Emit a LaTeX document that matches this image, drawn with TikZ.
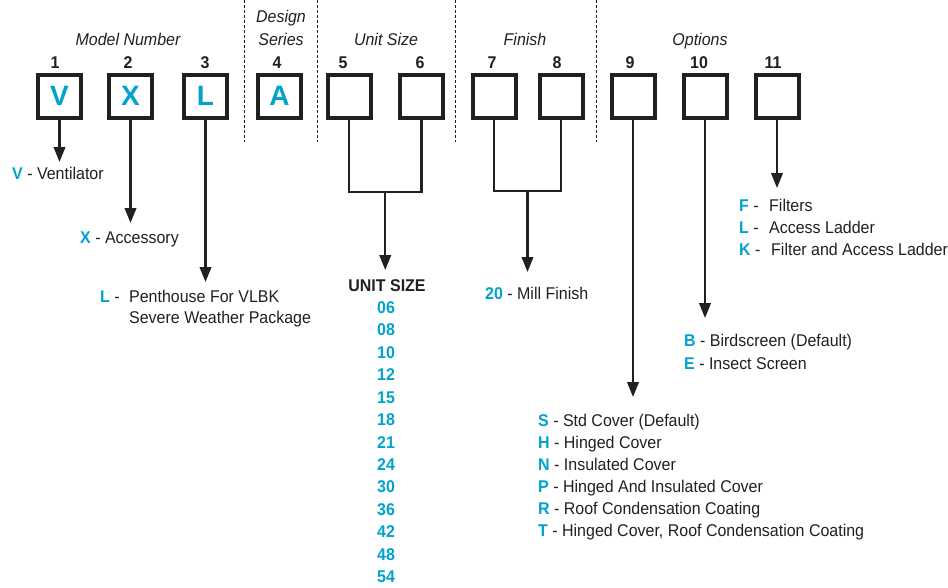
\documentclass[tikz,border=0pt]{standalone}
\usepackage{fontspec}
\setmainfont[FakeStretch=0.94]{Liberation Sans}
\newfontfamily\boxfont{Liberation Sans}
\usetikzlibrary{arrows.meta}
\definecolor{keycyan}{RGB}{0,163,204}
\definecolor{ink}{RGB}{35,31,32}
\newcommand{\kk}[1]{\textbf{\color{keycyan}#1}}
\begin{document}
\begin{tikzpicture}[x=1pt,y=-1pt,
  font=\fontsize{17}{20}\selectfont,
  every node/.style={text=ink},
  codebox/.style={draw=ink, line width=4pt, minimum size=43pt, inner sep=0pt,
    font=\boxfont\fontsize{28}{30}\selectfont\bfseries, text=keycyan},
  posnum/.style={font=\fontsize{17}{20}\selectfont\bfseries, anchor=base, inner sep=0pt},
  hdr/.style={font=\fontsize{17}{20}\selectfont\itshape, anchor=base, inner sep=0pt},
  lbl/.style={anchor=base west, inner sep=0pt},
  sepline/.style={draw=ink, line width=0.9pt, dash pattern=on 3pt off 2pt},
  feed/.style={draw=ink, line width=2.3pt},
  pointer/.style={feed, -{Triangle[length=15pt,width=11.5pt]}}
]
\useasboundingbox (0,0) rectangle (948,587);

% header texts
\node[hdr] (hModel) at (128,45) {Model Number};
\node[hdr] (hDesign) at (281,22.7) {Design};
\node[hdr] (hSeries) at (281,45) {Series};
\node[hdr] (hUnit) at (386,45) {Unit Size};
\node[hdr] (hFinish) at (525,45) {Finish};
\node[hdr] (hOptions) at (700,45) {Options};

% separators
\draw[sepline] (244,0) -- (244,142);
\draw[sepline] (317,0) -- (317,142);
\draw[sepline] (455,0) -- (455,142);
\draw[sepline] (596,0) -- (596,142);

% position numbers
\node[posnum] (n1) at (55,68.3) {1};
\node[posnum] (n2) at (128,68.3) {2};
\node[posnum] (n3) at (205,68.3) {3};
\node[posnum] (n4) at (277,68.3) {4};
\node[posnum] (n5) at (343,68.3) {5};
\node[posnum] (n6) at (420,68.3) {6};
\node[posnum] (n7) at (492,68.3) {7};
\node[posnum] (n8) at (557,68.3) {8};
\node[posnum] (n9) at (630,68.3) {9};
\node[posnum] (n10) at (699,68.3) {10};
\node[posnum] (n11) at (773,68.3) {11};

% code boxes
\node[codebox] (b1) at (59.5,96) {V};
\node[codebox] (b2) at (130.5,96) {X};
\node[codebox] (b3) at (205.5,96) {L};
\node[codebox] (b4) at (279.5,96) {A};
\node[codebox] (b5) at (349,96) {};
\node[codebox] (b6) at (421.5,96) {};
\node[codebox] (b7) at (494,96) {};
\node[codebox] (b8) at (561,96) {};
\node[codebox] (b9) at (633,96) {};
\node[codebox] (b10) at (705,96) {};
\node[codebox] (b11) at (777,96) {};

% arrow ends
\coordinate (t1) at (59.5,162);
\coordinate (t2) at (130.5,223);
\coordinate (t3) at (205.5,282);
\coordinate (t9) at (633,397);
\coordinate (t10) at (705,318);
\coordinate (t11) at (777,188);
\coordinate (j56) at (385.25,192);
\coordinate (t56) at (385.25,270);
\coordinate (j78) at (527.5,191);
\coordinate (t78) at (527.5,272);

\draw[pointer] (b1.south) -- (t1);
\draw[pointer] (b2.south) -- (t2);
\draw[pointer] (b3.south) -- (t3);
\draw[pointer] (b9.south) -- (t9);
\draw[pointer] (b10.south) -- (t10);
\draw[pointer] (b11.south) -- (t11);
\draw[feed] (b5.south) |- (j56) -| (b6.south);
\draw[pointer] (j56) -- (t56);
\draw[feed] (b7.south) |- (j78) -| (b8.south);
\draw[pointer] (j78) -- (t78);

% labels
\node[lbl] (lV) at (12,179.3) {\kk{V} - Ventilator};
\node[lbl] (lX) at (80,243.3) {\kk{X} - Accessory};
\node[lbl] (lL) at (100,302.7) {\makebox[29pt][l]{\kk{L} -}Penthouse For VLBK};
\node[lbl] (lL2) at (129,323.3) {Severe Weather Package};

\node[posnum] (us) at (387,291.7) {UNIT SIZE};
\foreach \v [count=\i from 0] in {06,08,10,12,15,18,21,24,30,36,42,48,54}
  \node[posnum, text=keycyan] (u\i) at (386,313.3+22.45*\i) {\v};

\node[lbl] (l20) at (485,299.3) {\kk{20} - Mill Finish};

\node[lbl] (lS) at (538,426) {\kk{S} - Std Cover (Default)};
\node[lbl] (lH) at (538,448.1) {\kk{H} - Hinged Cover};
\node[lbl] (lN) at (538,470.3) {\kk{N} - Insulated Cover};
\node[lbl] (lP) at (538,492.4) {\kk{P} - Hinged And Insulated Cover};
\node[lbl] (lR) at (538,514.5) {\kk{R} - Roof Condensation Coating};
\node[lbl] (lT) at (538,536.7) {\kk{T} - Hinged Cover, Roof Condensation Coating};

\node[lbl] (lB) at (684,346.7) {\kk{B} - Birdscreen (Default)};
\node[lbl] (lE) at (684,369.3) {\kk{E} - Insect Screen};

\node[lbl] (lF) at (739,211.7) {\makebox[30pt][l]{\kk{F} -}Filters};
\node[lbl] (lLa) at (739,233.3) {\makebox[30pt][l]{\kk{L} -}Access Ladder};
\node[lbl] (lK) at (739,255.7) {\makebox[32pt][l]{\kk{K} -}Filter and Access Ladder};
\end{tikzpicture}
\end{document}
